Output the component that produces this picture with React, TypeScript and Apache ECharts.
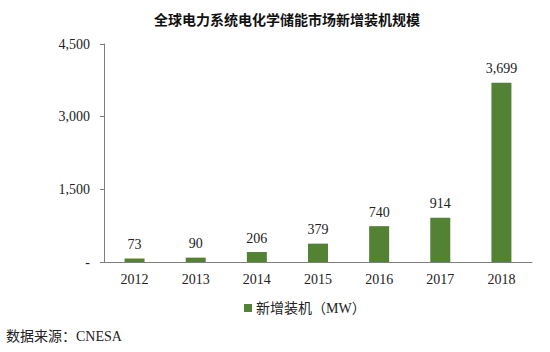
import React, { useEffect, useRef } from "react";
import * as echarts from "echarts";

const categories = ["2012", "2013", "2014", "2015", "2016", "2017", "2018"];
const values = [73, 90, 206, 379, 740, 914, 3699];
const yTicks = [0, 1500, 3000, 4500];
const seriesName = "新增装机（MW）";
const title = "全球电力系统电化学储能市场新增装机规模";
const source = "数据来源：CNESA";

const FONT = '"Liberation Serif", "Noto Sans CJK SC", serif';

export default function App() {
  const ref = useRef<HTMLDivElement>(null);
  useEffect(() => {
    if (!ref.current) return;
    const chart = echarts.init(ref.current, null, { renderer: "svg" });
    const fmt = (v: number) => (v === 0 ? "-" : v.toLocaleString("en-US"));
    chart.setOption({
      animation: false,
      backgroundColor: "#ffffff",
      textStyle: { fontFamily: FONT },
      title: {
        text: title,
        left: 282,
        textAlign: "center",
        top: 7,
        textStyle: {
          fontFamily: '"Noto Sans CJK SC", sans-serif',
          fontWeight: "bold",
          fontSize: 14,
          color: "#111",
        },
      },
      grid: { left: 104, right: 18, top: 44, bottom: 90 },
      xAxis: {
        type: "category",
        data: categories,
        axisLine: { lineStyle: { color: "#7f7f7f", width: 1 } },
        axisTick: { show: false },
        axisLabel: { fontFamily: FONT, fontSize: 14, color: "#222", margin: 10 },
      },
      yAxis: {
        type: "value",
        min: 0,
        max: yTicks[yTicks.length - 1],
        interval: 1500,
        splitLine: { show: false },
        axisLine: { show: true, lineStyle: { color: "#7f7f7f", width: 1 } },
        axisTick: { show: true, length: 4, lineStyle: { color: "#7f7f7f" } },
        axisLabel: {
          fontFamily: FONT,
          fontSize: 14,
          color: "#222",
          margin: 14,
          formatter: fmt,
        },
      },
      legend: {
        data: [seriesName],
        left: 239,
        top: 296,
        itemWidth: 8,
        itemHeight: 8,
        itemGap: 4,
        icon: "rect",
        textStyle: { fontFamily: FONT, fontSize: 14, color: "#222", padding: [0, 0, 0, -1] },
      },
      series: [
        {
          name: seriesName,
          type: "bar",
          data: values,
          barWidth: 20,
          itemStyle: { color: "#548235" },
          label: {
            show: true,
            position: "top",
            distance: 7,
            fontFamily: FONT,
            fontSize: 14,
            color: "#222",
            formatter: (p: any) => p.value.toLocaleString("en-US"),
          },
        },
      ],
      graphic: [
        {
          type: "text",
          left: 6,
          top: 329,
          style: {
            text: source,
            font: `14px ${FONT}`,
            fill: "#222",
          },
        },
      ],
    });
    return () => chart.dispose();
  }, []);
  return <div ref={ref} style={{ width: 550, height: 352, position: "absolute", left: 0, top: 0 }} />;
}
